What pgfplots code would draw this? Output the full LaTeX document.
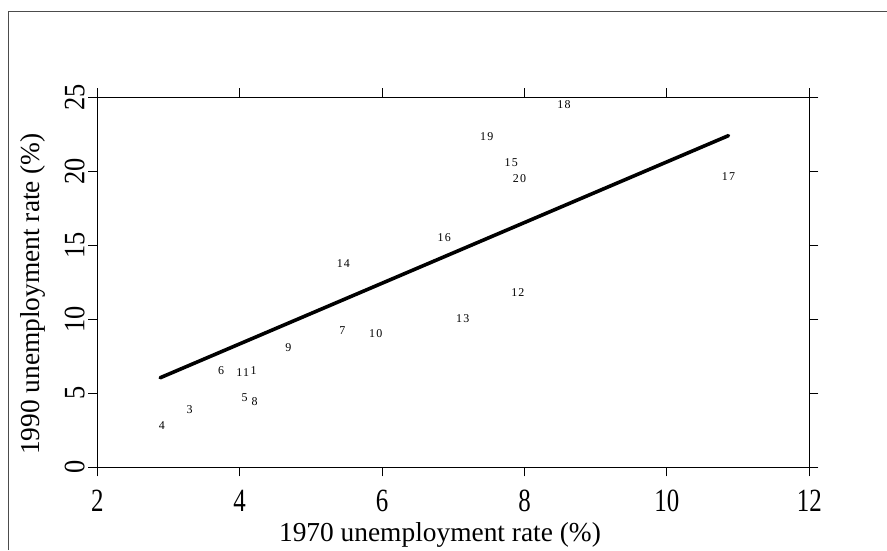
\documentclass[border=0pt]{standalone}
\usepackage{pgfplots}
\pgfplotsset{compat=1.18}
\usepackage{fontspec}
\setmainfont{Liberation Serif}
\newfontfamily\ptfont[LetterSpace=10]{Liberation Serif}
\begin{document}
\begin{tikzpicture}
\begin{axis}[
  scale only axis,
  width=712bp, height=370bp,
  xmin=2, xmax=12, ymin=0, ymax=25,
  xtick={2,4,6,8,10,12},
  ytick={0,5,10,15,20,25},
  axis line style={line width=1bp, black},
  tick style={line width=1bp, black},
  major tick length=9bp,
  tick align=outside,
  tick pos=both,
  xticklabel pos=left, yticklabel pos=left,
  /pgf/number format/assume math mode=true,
  xticklabel={\scalebox{1}[1.3]{\pgfmathprintnumber{\tick}}},
  yticklabel={\scalebox{1}[1.12]{\pgfmathprintnumber{\tick}}},
  xticklabel style={font=\fontsize{25}{28}\selectfont, anchor=base, inner sep=0pt, yshift=-35bp},
  yticklabel style={font=\fontsize{26.5}{28}\selectfont, rotate=90, anchor=base, inner sep=0pt, yshift=4bp},
  xlabel={1970 unemployment rate (\%)},
  ylabel={1990 unemployment rate (\%)},
  label style={font=\fontsize{27.5}{30}\selectfont},
  xlabel style={at={(axis description cs:0.4813,-0.2005)}, anchor=base},
  ylabel style={at={(axis description cs:-0.0805,0.4684)}, anchor=base, rotate=0},
  clip=false,
]
\addplot[only marks, mark=none, nodes near coords, point meta=explicit symbolic,
  nodes near coords style={anchor=center, inner sep=0pt, font=\ptfont\fontsize{12}{12}\selectfont}]
  table[x=x, y=y, meta=lab] {
lab x y
1 4.197 6.57
3 3.296 3.92
4 2.907 2.81
5 4.070 4.73
6 3.738 6.53
7 5.442 9.21
8 4.211 4.43
9 4.682 8.11
10 5.911 9.05
11 4.042 6.42
12 7.907 11.80
13 7.132 10.07
14 5.456 13.78
15 7.813 20.61
16 6.873 15.54
17 10.865 19.64
18 8.555 24.48
19 7.470 22.34
20 7.930 19.53
};
\addplot[black, line width=3.6bp, line cap=round] coordinates {(2.883,6.05) (10.865,22.41)};
\end{axis}
\path[use as bounding box] ([shift={(-97.3bp,-82.7bp)}]current axis.south west) rectangle +(887bp,550bp);
\draw[black!70, line width=1.2bp] ([shift={(-89bp,-82.7bp)}]current axis.south west) -- ++(0,538.3bp) -- ++(878.7bp,0);
\end{tikzpicture}
\end{document}
